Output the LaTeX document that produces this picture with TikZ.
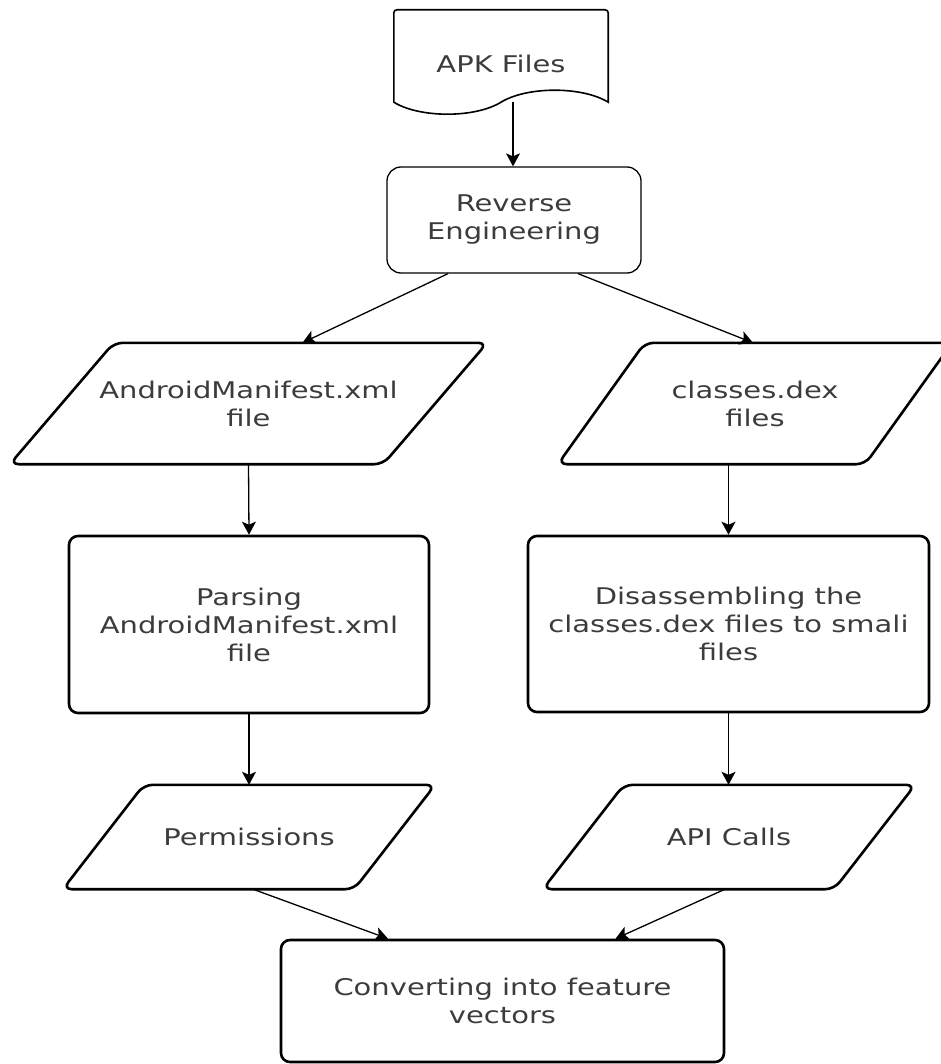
\documentclass[tikz,border=0pt]{standalone}
\usepackage{fontspec}
\setmainfont{DejaVu Sans}[FakeStretch=1.26]
\usetikzlibrary{arrows.meta,calc}
\definecolor{txt}{HTML}{3C3C3C}
\begin{document}
\begin{tikzpicture}[x=1pt,y=-1pt,
  lbl/.style={font=\fontsize{23}{28}\selectfont, text=txt, align=center, inner sep=0pt},
  box/.style={lbl, rectangle},
  frame/.style={draw=black, line width=2.6pt, rounded corners=9pt},
  thinframe/.style={draw=black, line width=1.3pt, rounded corners=14pt},
  docframe/.style={draw=black, line width=1.6pt},
  arr/.style={draw=black, line width=1.3pt, -{Stealth[length=13pt,width=14pt,inset=3pt]}}]
\useasboundingbox (0,0) rectangle (941,1064);

% APK Files (document shape)
\node[box, minimum width=214pt, minimum height=92pt] (apk) at (501,56) {};
\node[lbl] (apktxt) at (501,64) {APK Files};
\draw[docframe] (apk.south west) [rounded corners=3pt] -- (apk.north west) -- (apk.north east) [sharp corners] -- (apk.south east)
  .. controls ($(apk.south east)+(-26,-16)$) and ($(apk.south east)+(-81,-16)$) .. ($(apk.south)$)
  .. controls ($(apk.south)+(-26,16)$) and ($(apk.south west)+(26,16)$) .. (apk.south west) -- cycle;

% Reverse Engineering
\node[box, thinframe, minimum width=254pt, minimum height=106pt] (re) at (514,220) {Reverse\\Engineering};

% AndroidManifest.xml file (parallelogram)
\node[box, minimum width=477pt, minimum height=121pt] (am) at (248.5,403.5) {AndroidManifest.xml\\file};
\draw[frame] ([xshift=104pt]am.north west) -- (am.north east) -- ([xshift=-104pt]am.south east) -- (am.south west) -- cycle;

% classes.dex files (parallelogram)
\node[box, minimum width=394pt, minimum height=121pt] (cd) at (755,403.5) {classes.dex\\files};
\draw[frame] ([xshift=87pt]cd.north west) -- (cd.north east) -- ([xshift=-87pt]cd.south east) -- (cd.south west) -- cycle;

% Parsing box
\node[box, frame, minimum width=360pt, minimum height=177pt] (parse) at (249,624.5) {Parsing\\AndroidManifest.xml\\file};

% Disassembling box
\node[box, frame, minimum width=401pt, minimum height=176pt] (dis) at (728.5,624) {Disassembling the\\classes.dex files to smali\\files};

% Permissions (parallelogram)
\node[box, minimum width=372pt, minimum height=104pt] (perm) at (249,837) {Permissions};
\draw[frame] ([xshift=81pt]perm.north west) -- (perm.north east) -- ([xshift=-81pt]perm.south east) -- (perm.south west) -- cycle;

% API Calls (parallelogram)
\node[box, minimum width=372pt, minimum height=104pt] (api) at (729,837) {API Calls};
\draw[frame] ([xshift=81pt]api.north west) -- (api.north east) -- ([xshift=-81pt]api.south east) -- (api.south west) -- cycle;

% Converting box
\node[box, frame, minimum width=443pt, minimum height=122pt] (conv) at (502.5,1001) {Converting into feature\\vectors};

% Connectors
\draw[arr] ([xshift=12pt]apk.south) -- ([xshift=-1pt]re.north);
\draw[arr] ([xshift=-66pt]re.south) -- ([xshift=54pt]am.north);
\draw[arr] ([xshift=64pt]re.south) -- ([xshift=-2pt]cd.north);
\draw[arr] (am.south) -- (parse.north);
\draw[arr] ([xshift=-26.5pt]cd.south) -- (dis.north);
\draw[arr] (parse.south) -- (perm.north);
\draw[arr] (dis.south) -- ([xshift=-0.5pt]api.north);
\draw[arr] ([xshift=4pt]perm.south) -- ([xshift=-114.5pt]conv.north);
\draw[arr] ([xshift=-4pt]api.south) -- ([xshift=113pt]conv.north);
\end{tikzpicture}
\end{document}
